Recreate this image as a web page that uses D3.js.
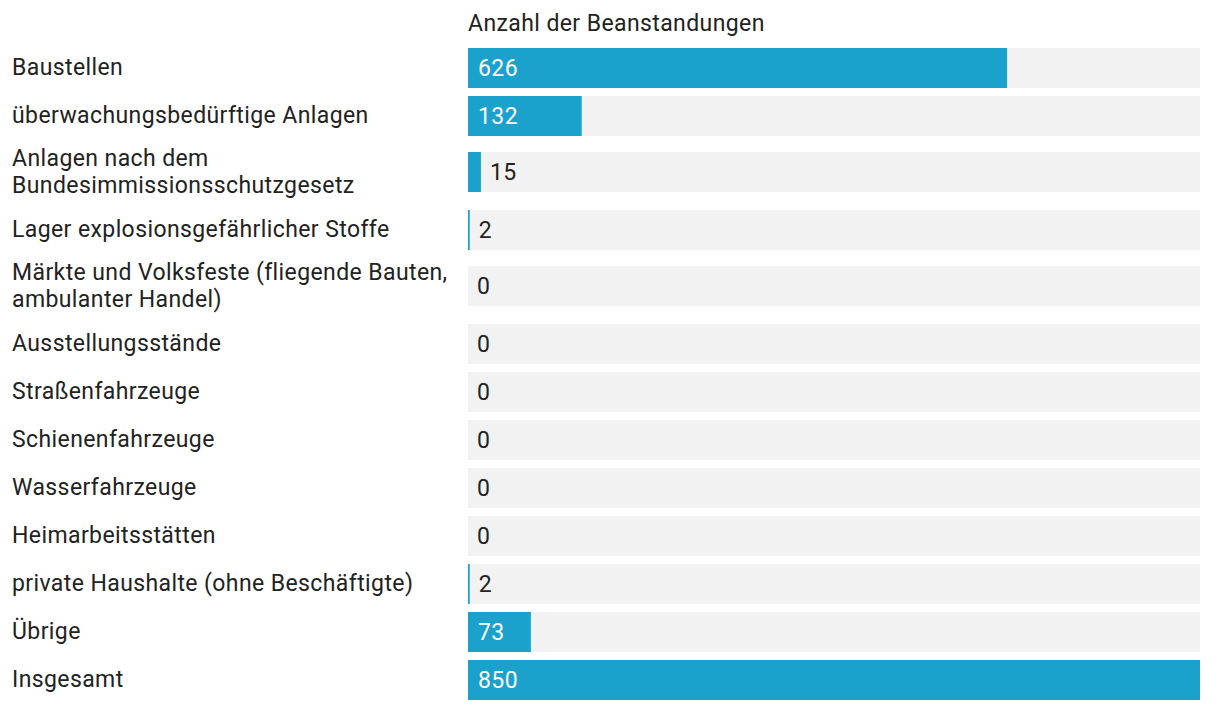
<!DOCTYPE html>
<html><head><meta charset="utf-8">
<script src="https://cdn.jsdelivr.net/npm/d3@7"></script>
<style>
html,body{margin:0;padding:0;background:#fff;}
svg text{font-family:Roboto,"Noto Sans",sans-serif;letter-spacing:0.4px;}
</style></head>
<body>
<svg id="chart" width="1220" height="710"></svg>
<script>
const categories = [
  ["Baustellen"],
  ["überwachungsbedürftige Anlagen"],
  ["Anlagen nach dem", "Bundesimmissionsschutzgesetz"],
  ["Lager explosionsgefährlicher Stoffe"],
  ["Märkte und Volksfeste (fliegende Bauten,", "ambulanter Handel)"],
  ["Ausstellungsstände"],
  ["Straßenfahrzeuge"],
  ["Schienenfahrzeuge"],
  ["Wasserfahrzeuge"],
  ["Heimarbeitsstätten"],
  ["private Haushalte (ohne Beschäftigte)"],
  ["Übrige"],
  ["Insgesamt"]
];
const values = [626, 132, 15, 2, 0, 0, 0, 0, 0, 0, 2, 73, 850];
const title = "Anzahl der Beanstandungen";

const svg = d3.select("#chart");
const barX0 = 468, barX1 = 1200, barH = 40, gap = 8, top0 = 48, fs = 23;
const x = d3.scaleLinear().domain([0, 850]).range([barX0, barX1]);

let y = top0;
const rows = categories.map((lines, i) => {
  const rh = lines.length > 1 ? 58 : barH;
  const off = lines.length > 1 ? 8 : 0;
  const r = {lines, value: values[i], top: y, barTop: y + off};
  y += rh + gap;
  return r;
});

svg.append("text").attr("x", barX0).attr("y", 31)
  .attr("font-size", fs).attr("fill", "#222").text(title);

const g = svg.selectAll("g.row").data(rows).join("g").attr("class", "row");

g.append("rect").attr("x", barX0).attr("y", d => d.barTop)
  .attr("width", barX1 - barX0).attr("height", barH).attr("fill", "#f2f2f2");

g.append("rect").attr("x", barX0).attr("y", d => d.barTop)
  .attr("width", d => x(d.value) - barX0).attr("height", barH).attr("fill", "#1aa1cc");

g.each(function(d) {
  const cy = d.barTop + barH / 2;
  const n = d.lines.length;
  const sel = d3.select(this);
  const shift = n > 1 ? 7.5 : 6.5;
  d.lines.forEach((ln, i) => {
    sel.append("text").attr("x", 12)
      .attr("y", cy + shift + (i - (n - 1) / 2) * 27)
      .attr("font-size", fs).attr("fill", "#222").text(ln);
  });
  const w = x(d.value) - barX0;
  const inside = w > 50;
  sel.append("text")
    .attr("x", inside ? barX0 + 10 : x(d.value) + 9)
    .attr("y", cy + 8)
    .attr("font-size", fs)
    .attr("fill", inside ? "#fff" : "#222")
    .text(d3.format(",")(d.value));
});
</script>
</body></html>
